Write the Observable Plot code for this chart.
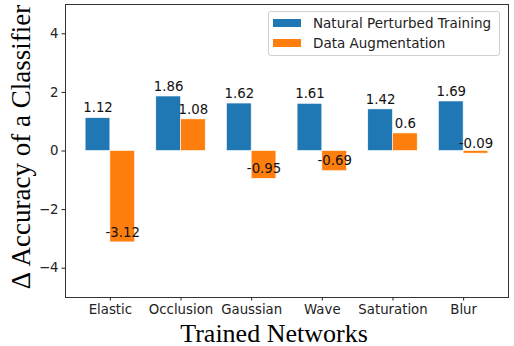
<!DOCTYPE html>
<html>
<head>
<meta charset="utf-8">
<script src="https://cdn.jsdelivr.net/npm/d3@7"></script>
<script src="https://cdn.jsdelivr.net/npm/@observablehq/plot@0.6"></script>
<style>
  html, body { margin: 0; padding: 0; background: #fff; }
  #wrap { position: relative; width: 514px; height: 346px; overflow: hidden; }
  #legend {
    position: absolute; left: 268px; top: 11px; width: 232px; height: 45px;
    box-sizing: border-box; border: 1px solid #d0d0d0; border-radius: 3px;
    background: rgba(255,255,255,0.85);
    font-family: "DejaVu Sans", sans-serif; font-size: 13.5px; color: #222;
  }
  .row { position: absolute; left: 4px; height: 20px; display: flex; align-items: center; }
  .sw { width: 28px; height: 8px; margin-right: 12px; }
</style>
</head>
<body>
<div id="wrap"></div>
<script>
const categories = ["Elastic", "Occlusion", "Gaussian", "Wave", "Saturation", "Blur"];
const natural = [1.12, 1.86, 1.62, 1.61, 1.42, 1.69];
const augmentation = [-3.12, 1.08, -0.95, -0.69, 0.6, -0.09];
const seriesNames = ["Natural Perturbed Training", "Data Augmentation"];
const seriesColors = ["#1f77b4", "#ff7f0e"];
const yTicks = [-4, -2, 0, 2, 4];
const yTitle = "Δ Accuracy of a Classifier";
const xTitle = "Trained Networks";

const barW = 0.35;
const rows = categories.flatMap((c, i) => [
  {cat: c, i, s: 0, value: natural[i]},
  {cat: c, i, s: 1, value: augmentation[i]}
]);

const minus = d => d < 0 ? "\u2212" + Math.abs(d) : String(d);

const chart = Plot.plot({
  width: 514,
  height: 346,
  marginLeft: 65,
  marginRight: 6,
  marginTop: 4,
  marginBottom: 49,
  style: {fontFamily: "'DejaVu Sans', sans-serif", fontSize: "13.3px", color: "#222", background: "#fff", overflow: "visible"},
  x: {type: "linear", domain: [-0.635, categories.length - 1 + 0.635], axis: null},
  y: {domain: [-5, 5], axis: null},
  color: {domain: [0, 1], range: seriesColors},
  marks: [
    Plot.rect(rows, {
      x1: d => d.i + (d.s - 1) * barW,
      x2: d => d.i + d.s * barW,
      y1: 0, y2: "value",
      fill: d => d.s, stroke: "#fff", strokeWidth: 0.6
    }),
    Plot.text(rows, {
      x: d => d.i + (d.s - 0.5) * barW,
      y: "value",
      text: d => String(d.value),
      dy: -10, fontSize: 13.3, fill: "#111"
    }),
    Plot.axisX({ticks: categories.map((c, i) => i), tickFormat: i => categories[i], tickSize: 3.5, tickPadding: 4, label: null, fontSize: 13.3}),
    Plot.axisY({ticks: yTicks, tickFormat: minus, tickSize: 3.5, tickPadding: 3.5, label: null, fontSize: 13.3}),
    Plot.frame({stroke: "#333", strokeWidth: 1}),
    Plot.text([xTitle], {frameAnchor: "bottom", dy: 44, dx: -13, lineAnchor: "bottom", fontFamily: "'Liberation Serif', 'Times New Roman', serif", fontSize: 26, fill: "#000"}),
    Plot.text([yTitle], {frameAnchor: "left", textAnchor: "middle", dx: -44, dy: -4, rotate: -90, fontFamily: "'Liberation Serif', 'Times New Roman', serif", fontSize: 27, fill: "#000"})
  ]
});

const wrap = document.getElementById("wrap");
wrap.appendChild(chart);

const legend = document.createElement("div");
legend.id = "legend";
seriesNames.forEach((name, k) => {
  const row = document.createElement("div");
  row.className = "row";
  row.style.top = (1 + k * 20) + "px";
  const sw = document.createElement("div");
  sw.className = "sw";
  sw.style.background = seriesColors[k];
  const lab = document.createElement("span");
  lab.textContent = name;
  row.appendChild(sw);
  row.appendChild(lab);
  legend.appendChild(row);
});
wrap.appendChild(legend);
</script>
</body>
</html>
